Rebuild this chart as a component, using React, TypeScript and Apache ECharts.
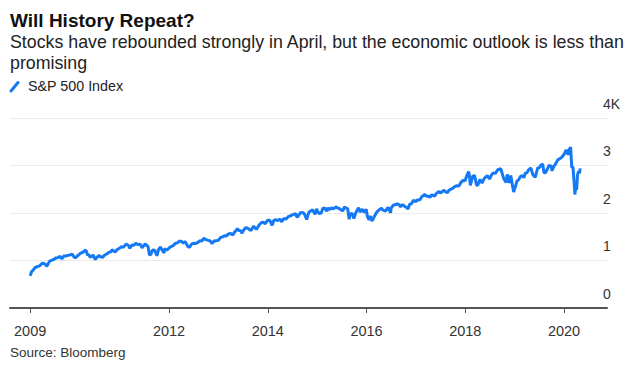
import React, { useEffect, useRef } from "react";
import * as echarts from "echarts";

const TITLE = "Will History Repeat?";
const SUBTITLE_1 = "Stocks have rebounded strongly in April, but the economic outlook is less than";
const SUBTITLE_2 = "promising";
const SERIES_NAME = "S&P 500 Index";
const SOURCE = "Source: Bloomberg";

const yTicks = [0, 1000, 2000, 3000, 4000];
const yTickLabels = ["0", "1", "2", "3", "4K"];
const xTickDates = ["2009-03-09", "2012-01-01", "2014-01-01", "2016-01-01", "2018-01-01", "2020-01-01"];
const xTickLabels = ["2009", "2012", "2014", "2016", "2018", "2020"];

const dates: string[] = [
  "2009-03-09","2009-03-20","2009-03-31","2009-04-15","2009-04-30","2009-05-15","2009-05-29","2009-06-12","2009-06-30","2009-07-10","2009-07-31","2009-08-14","2009-08-31","2009-09-15","2009-09-30","2009-10-16","2009-10-30","2009-11-13","2009-11-30","2009-12-15","2009-12-31",
  "2010-01-15","2010-01-29","2010-02-08","2010-02-26","2010-03-15","2010-03-31","2010-04-23","2010-04-30","2010-05-07","2010-05-14","2010-05-25","2010-06-11","2010-06-18","2010-07-02","2010-07-16","2010-07-30","2010-08-13","2010-08-27","2010-09-10","2010-09-30","2010-10-15","2010-10-29","2010-11-05","2010-11-30","2010-12-15","2010-12-31",
  "2011-01-14","2011-01-28","2011-02-18","2011-03-04","2011-03-16","2011-03-31","2011-04-15","2011-04-29","2011-05-13","2011-05-31","2011-06-15","2011-06-30","2011-07-07","2011-07-29","2011-08-08","2011-08-19","2011-08-31","2011-09-16","2011-09-30","2011-10-03","2011-10-14","2011-10-28","2011-11-25","2011-11-30","2011-12-16","2011-12-30",
  "2012-01-13","2012-01-31","2012-02-17","2012-02-29","2012-03-16","2012-03-30","2012-04-13","2012-04-30","2012-05-18","2012-06-01","2012-06-15","2012-06-29","2012-07-13","2012-07-31","2012-08-17","2012-08-31","2012-09-14","2012-09-28","2012-10-12","2012-10-31","2012-11-15","2012-11-30","2012-12-14","2012-12-31",
  "2013-01-18","2013-01-31","2013-02-15","2013-02-28","2013-03-15","2013-03-28","2013-04-18","2013-04-30","2013-05-21","2013-05-31","2013-06-14","2013-06-24","2013-06-28","2013-07-19","2013-07-31","2013-08-16","2013-08-30","2013-09-18","2013-09-30","2013-10-08","2013-10-31","2013-11-15","2013-11-29","2013-12-13","2013-12-31",
  "2014-01-15","2014-02-03","2014-02-14","2014-02-28","2014-03-14","2014-03-31","2014-04-11","2014-04-30","2014-05-15","2014-05-30","2014-06-13","2014-06-30","2014-07-24","2014-07-31","2014-08-07","2014-08-29","2014-09-18","2014-09-30","2014-10-15","2014-10-31","2014-11-14","2014-11-28","2014-12-16","2014-12-29","2014-12-31",
  "2015-01-15","2015-01-30","2015-02-13","2015-02-27","2015-03-11","2015-03-20","2015-03-31","2015-04-15","2015-04-30","2015-05-21","2015-05-29","2015-06-12","2015-06-29","2015-07-08","2015-07-20","2015-07-31","2015-08-14","2015-08-25","2015-08-31","2015-09-16","2015-09-29","2015-10-15","2015-11-03","2015-11-13","2015-11-30","2015-12-14","2015-12-29","2015-12-31",
  "2016-01-08","2016-01-20","2016-01-29","2016-02-11","2016-02-29","2016-03-15","2016-03-31","2016-04-20","2016-04-29","2016-05-19","2016-06-08","2016-06-27","2016-06-30","2016-07-15","2016-07-29","2016-08-15","2016-08-31","2016-09-09","2016-09-22","2016-10-14","2016-11-04","2016-11-15","2016-11-30","2016-12-13","2016-12-30",
  "2017-01-13","2017-01-31","2017-02-15","2017-02-28","2017-03-01","2017-03-24","2017-03-31","2017-04-13","2017-04-28","2017-05-17","2017-05-31","2017-06-19","2017-06-30","2017-07-26","2017-08-10","2017-08-21","2017-08-31","2017-09-15","2017-09-29","2017-10-13","2017-10-31","2017-11-15","2017-11-30","2017-12-18","2017-12-29",
  "2018-01-12","2018-01-26","2018-02-02","2018-02-08","2018-02-26","2018-03-09","2018-03-23","2018-04-02","2018-04-18","2018-05-03","2018-05-21","2018-06-12","2018-06-28","2018-07-13","2018-07-25","2018-08-10","2018-08-29","2018-09-20","2018-10-11","2018-10-29","2018-11-07","2018-11-23","2018-12-03","2018-12-14","2018-12-24","2018-12-31",
  "2019-01-04","2019-01-18","2019-01-31","2019-02-15","2019-02-28","2019-03-08","2019-03-21","2019-03-29","2019-04-12","2019-04-30","2019-05-13","2019-05-31","2019-06-03","2019-06-20","2019-06-28","2019-07-15","2019-07-26","2019-08-05","2019-08-15","2019-08-30","2019-09-13","2019-09-30","2019-10-02","2019-10-18","2019-10-31","2019-11-15","2019-11-29","2019-12-13","2019-12-31",
  "2020-01-17","2020-01-31","2020-02-07","2020-02-19","2020-02-28","2020-03-06","2020-03-13","2020-03-20","2020-03-27","2020-04-03","2020-04-09","2020-04-17","2020-04-24","2020-04-29"
];

const values: number[] = [
  676,768,798,852,873,882,919,946,919,879,987,1004,1021,1052,1057,1087,1036,1093,1096,1108,1115,
  1136,1074,1056,1104,1150,1169,1217,1187,1111,1135,1074,1092,1117,1022,1065,1102,1079,1065,1110,1141,1176,1183,1225,1181,1236,1258,
  1293,1276,1343,1321,1257,1326,1320,1364,1338,1345,1266,1321,1353,1292,1119,1124,1219,1216,1131,1099,1224,1285,1159,1247,1220,1258,
  1289,1312,1361,1366,1404,1408,1370,1398,1295,1278,1343,1362,1357,1379,1418,1407,1466,1441,1428,1412,1353,1416,1413,1426,
  1486,1498,1519,1515,1561,1569,1541,1598,1669,1631,1626,1573,1606,1692,1686,1656,1633,1725,1682,1656,1757,1798,1806,1775,1848,
  1848,1742,1838,1859,1841,1872,1815,1884,1870,1924,1936,1960,1988,1931,1910,2003,2011,1972,1862,2018,2039,2068,1972,2091,2059,
  1992,1995,2097,2105,2040,2108,2068,2106,2086,2131,2107,2094,2058,2046,2128,2104,2092,1868,1972,1995,1884,2023,2109,2023,2080,2012,2078,2044,
  1922,1859,1940,1829,1932,2015,2060,2102,2065,2040,2119,2001,2099,2162,2174,2190,2171,2128,2177,2133,2085,2180,2199,2271,2239,
  2275,2279,2349,2364,2396,2344,2363,2329,2384,2357,2412,2453,2423,2477,2438,2428,2472,2500,2519,2553,2575,2565,2648,2690,2674,
  2786,2873,2762,2581,2780,2786,2588,2582,2708,2630,2733,2786,2716,2801,2846,2833,2914,2931,2728,2641,2814,2633,2790,2600,2440,2507,
  2532,2671,2704,2776,2784,2743,2855,2834,2907,2946,2812,2752,2744,2954,2942,3014,3026,2845,2848,2926,3007,2977,2888,2986,3038,3120,3141,3169,3231,
  3330,3226,3328,3386,2954,2972,2711,2390,2541,2489,2790,2875,2837,2939
];

function toYear(d: string): number {
  const [y, m, dd] = d.split("-").map(Number);
  return y + (m - 1) / 12 + (dd - 1) / 365;
}

const LINE_COLOR = "#1579f5";

export default function App() {
  const ref = useRef<HTMLDivElement>(null);
  useEffect(() => {
    document.body.style.margin = "0";
    if (!ref.current) return;
    const chart = echarts.init(ref.current, null, { renderer: "svg" });
    const xTicks = xTickDates.map(toYear);
    const data = dates.map((d, i) => [toYear(d), values[i]]);
    const font = "'Liberation Sans', Arial, sans-serif";
    chart.setOption({
      animation: false,
      backgroundColor: "#ffffff",
      textStyle: { fontFamily: font },
      title: [
        { text: TITLE, left: 10, top: 11, padding: 0, textStyle: { fontSize: 19, fontWeight: "bold", color: "#111", fontFamily: font } },
        { text: SUBTITLE_1, left: 10, top: 33, padding: 0, textStyle: { fontSize: 17.8, fontWeight: "normal", color: "#222", fontFamily: font } },
        { text: SUBTITLE_2, left: 10, top: 54, padding: 0, textStyle: { fontSize: 17.8, fontWeight: "normal", color: "#222", fontFamily: font } },
        { text: SOURCE, left: 10, top: 345, padding: 0, textStyle: { fontSize: 13.5, fontWeight: "normal", color: "#333", fontFamily: font } },
      ],
      graphic: [
        { type: "line", shape: { x1: 11, y1: 91, x2: 18, y2: 82.5 }, style: { stroke: LINE_COLOR, lineWidth: 3, lineCap: "round" } },
        { type: "text", left: 28, top: 79, style: { text: SERIES_NAME, fontSize: 14.3, fill: "#222", fontFamily: font } },
      ],
      grid: { left: 10, right: 33, top: 118, bottom: 68, containLabel: false },
      xAxis: {
        type: "value",
        min: 2008.78,
        max: 2020.87,
        axisLine: { show: true, lineStyle: { color: "#555", width: 2 } },
        axisTick: { show: true, customValues: xTicks, length: 5, lineStyle: { color: "#555", width: 1 } },
        axisLabel: {
          customValues: xTicks,
          formatter: (v: number) => {
            const idx = xTicks.findIndex((t) => Math.abs(t - v) < 1e-6);
            return idx >= 0 ? xTickLabels[idx] : "";
          },
          fontSize: 14.5,
          color: "#333",
          margin: 15,
          fontFamily: font,
        },
        splitLine: { show: false },
      },
      yAxis: {
        type: "value",
        position: "right",
        min: 0,
        max: 4000,
        interval: 1000,
        axisLine: { show: false },
        axisTick: { show: false },
        splitLine: { show: true, lineStyle: { color: "#ebebeb", width: 1 } },
        axisLabel: {
          formatter: (v: number) => {
            const idx = yTicks.indexOf(v);
            return idx >= 0 ? yTickLabels[idx] : "";
          },
          fontSize: 14,
          color: "#333",
          margin: -4,
          align: "left",
          verticalAlign: "bottom",
          lineHeight: 29,
          fontFamily: font,
        },
      },
      series: [
        {
          name: SERIES_NAME,
          type: "line",
          data,
          showSymbol: false,
          lineStyle: { color: LINE_COLOR, width: 3 },
          itemStyle: { color: LINE_COLOR },
        },
      ],
    });
    return () => chart.dispose();
  }, []);
  return <div ref={ref} style={{ width: 640, height: 376 }} />;
}
